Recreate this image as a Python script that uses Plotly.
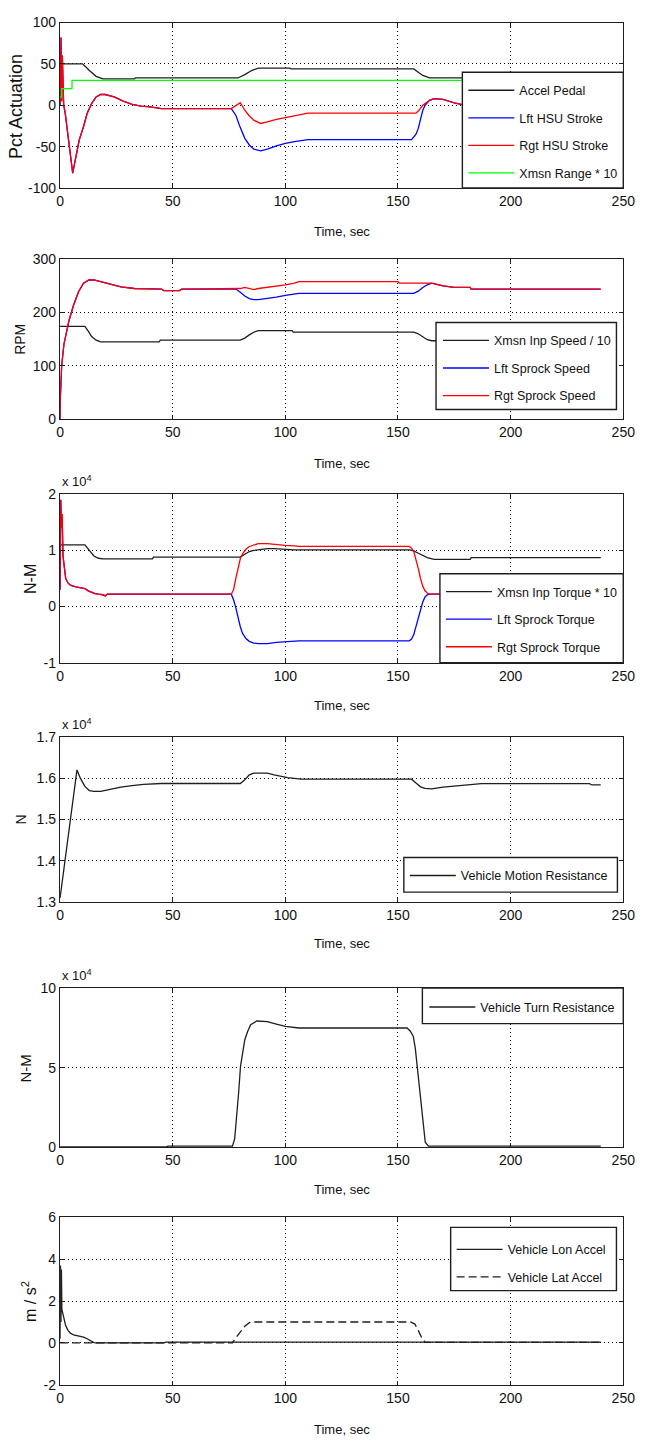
import plotly.graph_objects as go

W, H = 646, 1447
FONT = "Liberation Sans, Arial, sans-serif"

# ---------------- data ----------------
# Panel 1 : Pct Actuation
t_accel = [0, 10, 13, 16, 19, 33, 33.5, 79, 82, 85, 88, 102, 102.5, 157, 159, 161, 164, 240]
accel_pedal = [50, 50, 42, 35, 32, 32, 33, 33, 37, 42, 45, 45, 44, 44, 40, 36, 33, 33]

t_hsu = [0, 0.4, 0.7, 1.0, 1.6, 2.2, 5.6, 8.5, 10.4, 12, 14, 16, 18, 20, 24, 28, 32, 36, 40, 45,
         76, 78, 80, 82, 84, 86, 89, 92, 96, 100, 104, 108, 110, 156, 158, 159, 160, 161, 162,
         164, 166, 170, 175, 180, 240]
lft_hsu = [0, 82, 5, 60, 0, -8, -82, -42, -26, -10, 2, 10, 13, 13, 10, 5, 1, -1, -2, -4,
           -4, -12, -27, -40, -48, -53, -55, -53, -49, -46, -44, -42, -41.5, -41.5, -35, -28, -16, -6, 0,
           6, 8, 7, 3, 0, 0]
rgt_hsu = [0, 82, 5, 60, 0, -8, -82, -42, -26, -10, 2, 10, 13, 13, 10, 5, 1, -1, -2, -4,
           -4, 0, 3, -6, -13, -18, -22, -20, -17, -15, -13, -11, -9.5, -9.5, -9.5, -7, -3, 0, 2,
           6, 8, 7, 3, 0, 0]

t_range = [0, 0.7, 0.7, 5.3, 5.3, 240]
xmsn_range = [10, 10, 20, 20, 30, 30]

# Panel 2 : RPM
t_inp_speed = [0, 11, 12.5, 14, 16, 18, 44, 44.5, 80, 82, 84, 86, 88, 103, 103.5, 157, 159, 161, 163, 165, 240]
inp_speed = [174, 174, 165, 155, 148, 145, 145, 148, 148, 152, 158, 163, 166, 166, 163, 163, 160, 154, 149, 147, 147]

t_spr = [0, 0.1, 0.7, 1.7, 3.9, 6, 8.2, 10.4, 12.8, 15, 18, 22, 27, 33, 45, 46, 53, 54, 78,
         80, 82, 84, 86, 88, 92, 96, 100, 104, 106, 150, 150.5, 157, 159, 161, 163, 165,
         170, 175, 182, 182.5, 240]
lft_spr = [0, 38, 100, 140, 184, 214, 239, 255, 261, 261, 258, 253, 248, 245, 244, 241, 241, 244, 244,
           238, 231, 226, 224, 224, 226, 229, 232, 234, 236, 236, 236, 236, 240, 247, 252, 255,
           250, 247, 247, 244, 244]
rgt_spr = [0, 38, 100, 140, 184, 214, 239, 255, 261, 261, 258, 253, 248, 245, 244, 241, 241, 244, 244,
           245, 247, 245, 243, 245, 247, 250, 252, 255, 258, 258, 255, 255, 255, 255, 255, 255,
           250, 247, 247, 244, 244]

# Panel 3 : N-M (torques)
t_inp_torque = [0, 11, 13, 15, 17, 19, 41, 41.5, 80, 82, 84, 86, 89, 92, 95, 100, 104, 155, 157, 159,
                161, 163, 166, 182, 182.5, 240]
inp_torque = [11000, 11000, 10000, 9000, 8600, 8500, 8500, 8800, 8800, 9300, 9800, 10000, 10200, 10300,
              10300, 10200, 10100, 10100, 9900, 9500, 9100, 8700, 8400, 8400, 8700, 8700]

t_torque = [0, 0.3, 0.6, 0.9, 1.3, 2, 2.5, 3.5, 4.6, 7, 9.6, 11, 12.5, 14, 15.5, 17, 19, 20, 21, 76,
            77, 78, 79, 80, 81, 82.5, 84, 86, 88, 92, 96, 100, 104, 106, 155, 156, 157, 158, 159,
            160, 161, 162, 163, 164, 240]
lft_torque = [3000, 19000, 14000, 16500, 9000, 6000, 5000, 4200, 3800, 3500, 3300, 3200, 2800, 2500,
              2300, 2200, 2100, 1900, 2200, 2200,
              1200, -200, -2000, -3600, -4800, -5700, -6200, -6500, -6600, -6600, -6400, -6300, -6200,
              -6100, -6100, -5800, -5000, -3500, -2000, -500, 800, 1700, 2100, 2200, 2200]
rgt_torque = [3000, 19000, 14000, 16500, 9000, 6000, 5000, 4200, 3800, 3500, 3300, 3200, 2800, 2500,
              2300, 2200, 2100, 1900, 2200, 2200,
              3000, 5000, 7000, 8500, 9400, 10200, 10700, 11000, 11200, 11200, 11000, 10900, 10800,
              10700, 10700, 10400, 9800, 8500, 6800, 5000, 3600, 2800, 2400, 2200, 2200]

# Panel 4 : N (motion resistance)
t_motion = [0, 7.5, 9, 11, 13, 15, 18, 22, 27, 32, 37, 45, 80, 82, 84, 86, 92, 95, 98, 101, 107,
            156, 158, 160, 162, 165, 170, 175, 180, 187, 235, 236, 240]
motion_res = [13100, 16200, 16000, 15800, 15700, 15680, 15680, 15730, 15780, 15820, 15850, 15870,
              15870, 15960, 16080, 16120, 16120, 16080, 16040, 16010, 15975, 15975, 15880, 15790,
              15750, 15740, 15780, 15810, 15830, 15865, 15865, 15835, 15835]

# Panel 5 : N-M (turn resistance)
t_turn = [0, 47, 48, 76.5, 77.5, 78.5, 79.3, 80.1, 81, 82, 83.3, 84.6, 87.3, 92, 96, 100, 106,
          154, 155.5, 156.8, 157.7, 158.5, 159.4, 160.3, 161.2, 162.1, 163.5, 240]
turn_res = [0, 0, 500, 500, 5000, 20000, 35000, 51000, 60000, 67600, 73000, 77000, 79400, 79000,
            77500, 76000, 75000, 75000, 73000, 69600, 62000, 51000, 37000, 24000, 11000, 3000, 500, 500]

# Panel 6 : m/s^2
t_lon = [0, 0.2, 0.4, 0.6, 0.8, 1.2, 2.4, 3.5, 4.6, 6, 7.5, 10.4, 12, 13, 14, 15, 16, 46, 47, 240]
lon_accel = [0.2, 3.7, 1.0, 3.5, 1.6, 1.4, 0.86, 0.6, 0.47, 0.38, 0.34, 0.28, 0.2, 0.13, 0.06, 0.02,
             0, 0, 0.04, 0.04]
t_lat = [0, 76.5, 78, 80, 82, 84, 86, 155.5, 157.5, 159, 160.5, 162, 240]
lat_accel = [0, 0, 0.25, 0.55, 0.8, 0.97, 1.0, 1.0, 0.9, 0.6, 0.25, 0.03, 0.03]

x_ticks = [0, 50, 100, 150, 200, 250]

# ---------------- layout geometry (pixels) ----------------
PLOT_L, PLOT_R = 57.5, 635
panels = [  # top, bottom
    (14.7, 182), (254, 415.7), (491.7, 662), (737, 904), (991.3, 1151.7), (1222.7, 1392.3)]


def fx(px):
    return px / W


def fy(py):
    return 1 - py / H


BLACK = "#1e1e1e"
fig = go.Figure()


def add(x, y, name, color, k, dash="solid", width=1.3):
    sfx = "" if k == 1 else str(k)
    fig.add_trace(go.Scatter(
        x=x, y=y, mode="lines", name=name,
        line=dict(color=color, width=width, dash=dash),
        xaxis="x" + sfx, yaxis="y" + sfx,
        legend="legend" + sfx, legendgroup=name, showlegend=True))


add(t_accel, accel_pedal, "Accel Pedal", BLACK, 1)
add(t_hsu, lft_hsu, "Lft HSU Stroke", "#0000ff", 1)
add(t_hsu, rgt_hsu, "Rgt HSU Stroke", "#ff0000", 1)
add(t_range, xmsn_range, "Xmsn Range * 10", "#00ff00", 1)

add(t_inp_speed, inp_speed, "Xmsn Inp Speed / 10", BLACK, 2)
add(t_spr, lft_spr, "Lft Sprock Speed", "#0000ff", 2)
add(t_spr, rgt_spr, "Rgt Sprock Speed", "#ff0000", 2)

add(t_inp_torque, inp_torque, "Xmsn Inp Torque * 10", BLACK, 3)
add(t_torque, lft_torque, "Lft Sprock Torque", "#0000ff", 3)
add(t_torque, rgt_torque, "Rgt Sprock Torque", "#ff0000", 3)

add(t_motion, motion_res, "Vehicle Motion Resistance", BLACK, 4)
add(t_turn, turn_res, "Vehicle Turn Resistance", BLACK, 5)
add(t_lon, lon_accel, "Vehicle Lon Accel", BLACK, 6)
add(t_lat, lat_accel, "Vehicle Lat Accel", BLACK, 6, dash="8px,4px")

y_specs = [
    dict(range=[-100, 100], tickvals=[-100, -50, 0, 50, 100], ticktext=["-100", "-50", "0", "50", "100"]),
    dict(range=[0, 300], tickvals=[0, 100, 200, 300], ticktext=["0", "100", "200", "300"]),
    dict(range=[-10000, 20000], tickvals=[-10000, 0, 10000, 20000], ticktext=["-1", "0", "1", "2"]),
    dict(range=[13000, 17000], tickvals=[13000, 14000, 15000, 16000, 17000],
         ticktext=["1.3", "1.4", "1.5", "1.6", "1.7"]),
    dict(range=[0, 100000], tickvals=[0, 50000, 100000], ticktext=["0", "5", "10"]),
    dict(range=[-2, 6], tickvals=[-2, 0, 2, 4, 6], ticktext=["-2", "0", "2", "4", "6"]),
]

axis_common = dict(
    showline=True, linecolor=BLACK, linewidth=1.4, mirror="ticks",
    ticks="inside", ticklen=4, tickcolor=BLACK,
    showgrid=True, gridcolor="#000000", gridwidth=1, griddash="1px,3px",
    zeroline=False, tickfont=dict(family=FONT, size=14, color="#111"),
    ticklabeloverflow="allow",
)

layout = dict(width=W, height=H, margin=dict(l=0, r=0, t=0, b=0),
              paper_bgcolor="white", plot_bgcolor="white", showlegend=True)

for i, (top, bot) in enumerate(panels):
    k = i + 1
    sfx = "" if k == 1 else str(k)
    layout["xaxis" + sfx] = dict(axis_common, domain=[fx(PLOT_L), fx(PLOT_R)], range=[0, 250],
                                 tickvals=x_ticks, ticktext=[str(v) for v in x_ticks], anchor="y" + sfx)
    layout["yaxis" + sfx] = dict(axis_common, domain=[fy(bot), fy(top)], anchor="x" + sfx,
                                 **y_specs[i])

# legend boxes (pixels): left, top, right, bottom, item-left, first-item-center
legend_boxes = [
    (470, 65, 635, 182, 471, 83),
    (443, 318, 628, 406, 445, 336),
    (447, 572, 635, 662, 448, 590),
    (410, 859, 629, 894, 411, 877),
    (429, 991, 635, 1027, 431, 1010),
    (458, 1233, 628, 1297, 459, 1255),
]
shapes = []
for i, (l, t, r, b, il, ic) in enumerate(legend_boxes):
    k = i + 1
    sfx = "" if k == 1 else str(k)
    shapes.append(dict(type="rect", xref="paper", yref="paper", x0=fx(l), x1=fx(r), y0=fy(b), y1=fy(t),
                       fillcolor="white", line=dict(color=BLACK, width=1.4), layer="above"))
    layout["legend" + sfx] = dict(
        x=fx(il), y=fy(ic - 14.6), xanchor="left", yanchor="top", xref="paper", yref="paper",
        bgcolor="rgba(0,0,0,0)", borderwidth=0, itemwidth=46, tracegroupgap=8.3,
        traceorder="grouped", font=dict(family=FONT, size=12.5, color="#111"))
layout["shapes"] = shapes

annotations = []
time_label_y = [226, 461, 705, 946, 1195, 1437]
for yy in time_label_y:
    annotations.append(dict(text="Time, sec", x=fx((PLOT_L + PLOT_R) / 2), y=fy(yy), xref="paper",
                            yref="paper", showarrow=False, xanchor="center", yanchor="middle",
                            font=dict(family=FONT, size=13, color="#111")))

ytitles = [("Pct Actuation", 12.5, 100, 18), ("RPM", 17, 335, 14),
           ("N-M", 27, 577, 16), ("N", 17, 821, 14),
           ("N-M", 22, 1072, 15), ("m / s<sup>2</sup>", 25, 1308, 16)]
for txt, xx, yy, sz in ytitles:
    annotations.append(dict(text=txt, x=fx(xx), y=fy(yy), xref="paper", yref="paper", showarrow=False,
                            textangle=-90, xanchor="center", yanchor="middle",
                            font=dict(family=FONT, size=sz, color="#111")))

for top in [panels[2][0], panels[3][0], panels[4][0]]:
    annotations.append(dict(text="x 10<sup>4</sup>", x=fx(57), y=fy(top - 3), xref="paper", yref="paper",
                            showarrow=False, xanchor="left", yanchor="bottom",
                            font=dict(family=FONT, size=13, color="#111")))
layout["annotations"] = annotations

fig.update_layout(**layout)
fig.write_html("out.html")
